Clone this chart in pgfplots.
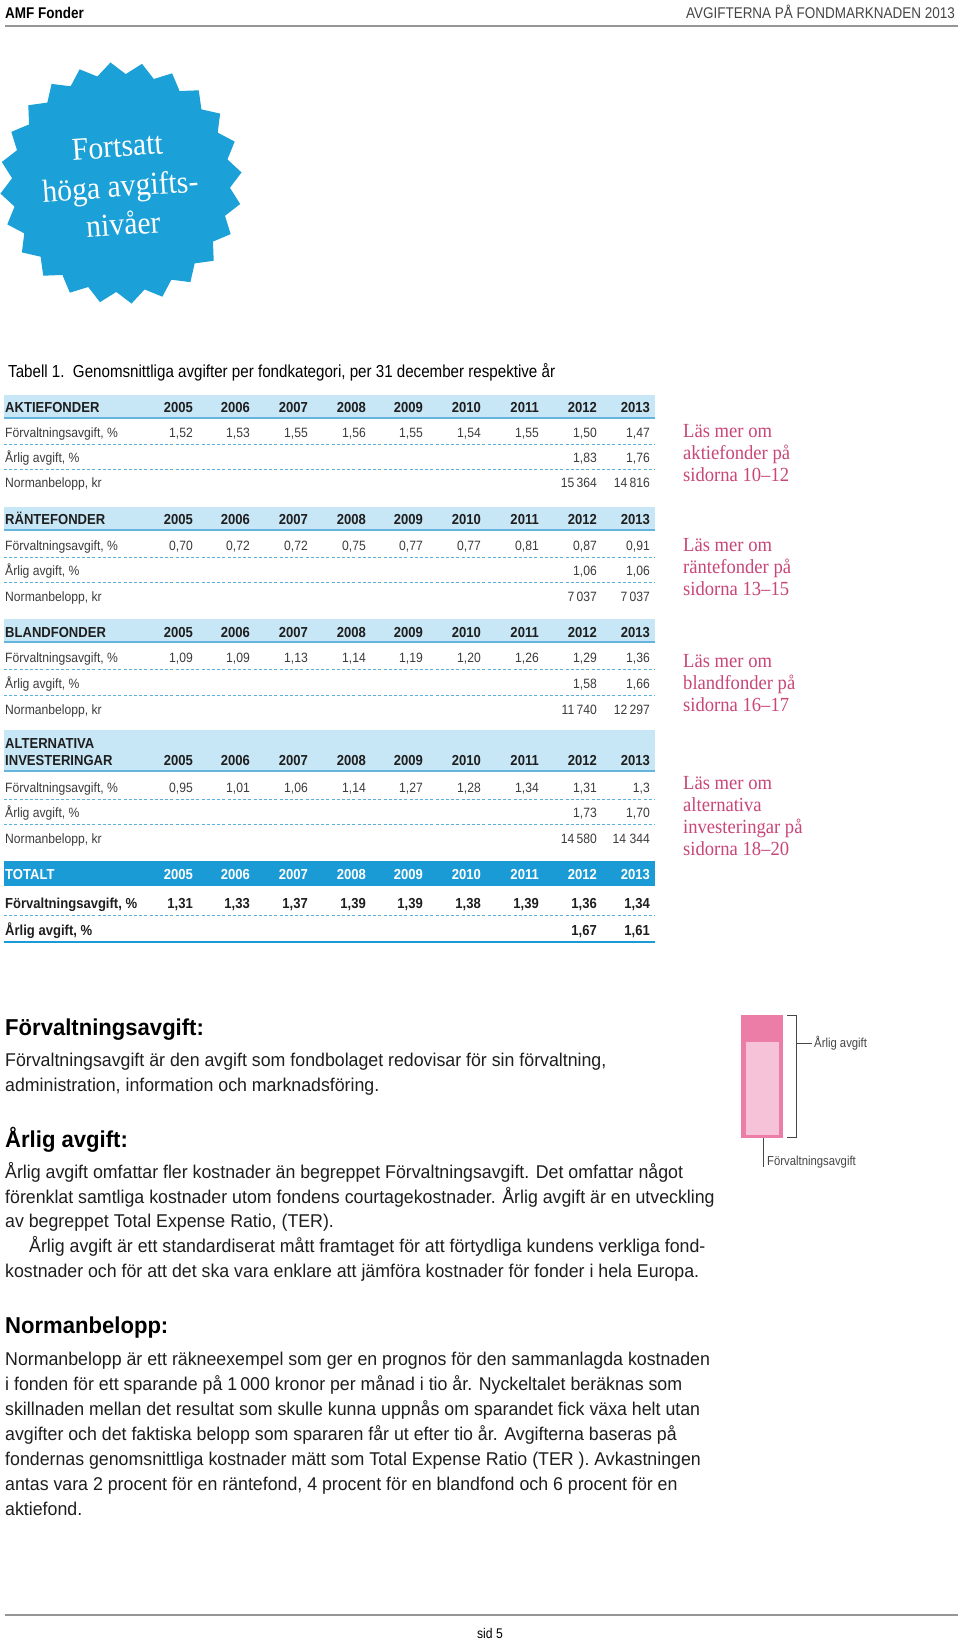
\documentclass[border=0pt]{standalone}
\usepackage{pgfplots}
\pgfplotsset{compat=1.18}
\usepackage{fontspec}
\usetikzlibrary{shapes.geometric}
\setmainfont{Liberation Sans}
\newfontfamily\tblf[FakeStretch=0.9]{Liberation Sans}
\newfontfamily\hdrf[FakeStretch=0.87]{Liberation Sans}
\newfontfamily\bodyf[FakeStretch=0.96]{Liberation Sans}
\newfontfamily\serff[FakeStretch=0.93]{Liberation Serif}
\definecolor{starblue}{RGB}{27,160,215}
\definecolor{bandlight}{RGB}{199,230,246}
\definecolor{bandline}{RGB}{100,180,222}
\definecolor{bandtot}{RGB}{27,155,213}
\definecolor{dashc}{RGB}{90,175,220}
\definecolor{pinktext}{RGB}{200,70,120}
\definecolor{pinkdark}{RGB}{236,125,166}
\definecolor{pinklight}{RGB}{246,194,216}
\definecolor{rulegray}{RGB}{150,150,150}
\definecolor{tgray}{RGB}{60,60,60}
\definecolor{txt}{RGB}{30,30,30}
\definecolor{headgray}{RGB}{70,70,70}
\def\colxs{193/2005,250/2006,308/2007,366/2008,423/2009,481/2010,539/2011,597/2012,650/2013}
\newcommand\tfont{\tblf\fontsize{13.5}{16}\selectfont}
\newcommand\hfont{\tblf\bfseries\fontsize{14.5}{16}\selectfont}
\newcommand\band[2]{\fill[bandlight] (4,#1) rectangle (655,#2);
  \draw[bandline, line width=1.2] (4,#2) -- (655,#2);}
\newcommand\years[2]{\foreach \x/\yr in \colxs {\node[anchor=base east,inner sep=0pt,font=\hfont,text=#2] at (\x,#1) {\yr};}}
\newcommand\hlab[2]{\node[anchor=base west,inner sep=0pt,font=\hfont,text=txt] at (5,#1) {#2};}
\newcommand\lab[2]{\node[anchor=base west,inner sep=0pt,font=\tfont,text=tgray] at (5,#1) {#2};}
\newcommand\val[3]{\node[anchor=base east,inner sep=0pt,font=\tfont,text=tgray] at (#1,#2) {#3};}
\newcommand\fullrow[3]{\lab{#1}{#2}\foreach \x/\v in {#3} {\val{\x}{#1}{\v}}}
\newcommand\blab[2]{\node[anchor=base west,inner sep=0pt,font=\hfont,text=txt] at (5,#1) {#2};}
\newcommand\bval[3]{\node[anchor=base east,inner sep=0pt,font=\hfont,text=txt] at (#1,#2) {#3};}
\newcommand\dline[1]{\draw[dashc, line width=0.9, dash pattern=on 3pt off 2.2pt] (4,#1) -- (655,#1);}
\newcommand\pink[2]{\node[anchor=base west,inner sep=0pt,font=\serff\fontsize{20}{22}\selectfont,text=pinktext] at (683,#1) {#2};}
\newcommand\bl[2]{\node[anchor=base west,inner sep=0pt,font=\bodyf\fontsize{18.5}{22}\selectfont,text=txt] at (5,#1) {#2};}
\newcommand\bli[2]{\node[anchor=base west,inner sep=0pt,font=\bodyf\fontsize{18.5}{22}\selectfont,text=txt] at (29,#1) {#2};}
\newcommand\bh[2]{\node[anchor=base west,inner sep=0pt,font=\bodyf\bfseries\fontsize{23}{26}\selectfont,text=black] at (5,#1) {#2};}
\newcommand\starl[3]{\node[anchor=base,text=white,font=\serff\fontsize{32}{38}\selectfont,rotate=4,inner sep=0pt] at (#1,#2) {#3};}
\begin{document}
\begin{tikzpicture}
\begin{scope}[x=1pt,y=-1pt]
\fill[white] (0,0) rectangle (960,1641);
% header
\node[anchor=base west,inner sep=0pt,font=\hdrf\bfseries\fontsize{15.5}{18}\selectfont,text=black] at (5,18) {AMF Fonder};
\node[anchor=base east,inner sep=0pt,font=\hdrf\fontsize{15.5}{18}\selectfont,text=headgray] at (955,18) {AVGIFTERNA PÅ FONDMARKNADEN 2013};
\draw[rulegray, line width=1.5] (5,26) -- (958,26);
% starburst
\node[star, star points=24, star point ratio=1.11, minimum size=242pt, fill=starblue, draw=none, inner sep=0pt, rotate=5] at (121,183) {};
\starl{118}{157}{Fortsatt}
\starl{121}{197}{höga avgifts-}
\starl{124}{235}{nivåer}
% title
\node[anchor=base west,inner sep=0pt,font=\hdrf\fontsize{17.4}{20}\selectfont,text=black] at (8,377) {Tabell 1.\ \ Genomsnittliga avgifter per fondkategori, per 31 december respektive år};
% AKTIEFONDER
\band{395}{418}
\hlab{412}{AKTIEFONDER}\years{412}{txt}
\fullrow{437}{Förvaltningsavgift, \%}{193/{1,52},250/{1,53},308/{1,55},366/{1,56},423/{1,55},481/{1,54},539/{1,55},597/{1,50},650/{1,47}}
\dline{444}
\lab{462}{Årlig avgift, \%}\val{597}{462}{1,83}\val{650}{462}{1,76}
\dline{469}
\lab{487}{Normanbelopp, kr}\val{597}{487}{15\,364}\val{650}{487}{14\,816}
% RANTEFONDER
\band{507}{530}
\hlab{524}{RÄNTEFONDER}\years{524}{txt}
\fullrow{550}{Förvaltningsavgift, \%}{193/{0,70},250/{0,72},308/{0,72},366/{0,75},423/{0,77},481/{0,77},539/{0,81},597/{0,87},650/{0,91}}
\dline{557}
\lab{575.5}{Årlig avgift, \%}\val{597}{575.5}{1,06}\val{650}{575.5}{1,06}
\dline{582.5}
\lab{601}{Normanbelopp, kr}\val{597}{601}{7\,037}\val{650}{601}{7\,037}
% BLANDFONDER
\band{619}{642}
\hlab{637}{BLANDFONDER}\years{637}{txt}
\fullrow{662}{Förvaltningsavgift, \%}{193/{1,09},250/{1,09},308/{1,13},366/{1,14},423/{1,19},481/{1,20},539/{1,26},597/{1,29},650/{1,36}}
\dline{669}
\lab{688}{Årlig avgift, \%}\val{597}{688}{1,58}\val{650}{688}{1,66}
\dline{695}
\lab{714}{Normanbelopp, kr}\val{597}{714}{11\,740}\val{650}{714}{12\,297}
% ALTERNATIVA
\band{730}{771}
\hlab{748}{ALTERNATIVA}\hlab{765}{INVESTERINGAR}\years{765}{txt}
\fullrow{792}{Förvaltningsavgift, \%}{193/{0,95},250/{1,01},308/{1,06},366/{1,14},423/{1,27},481/{1,28},539/{1,34},597/{1,31},650/{1,3}}
\dline{799}
\lab{817}{Årlig avgift, \%}\val{597}{817}{1,73}\val{650}{817}{1,70}
\dline{824}
\lab{843}{Normanbelopp, kr}\val{597}{843}{14\,580}\val{650}{843}{14 344}
% TOTALT
\fill[bandtot] (4,861) rectangle (655,886);
\node[anchor=base west,inner sep=0pt,font=\hfont,text=white] at (5,879) {TOTALT};
\years{879}{white}
\blab{908}{Förvaltningsavgift, \%}
\foreach \x/\v in {193/{1,31},250/{1,33},308/{1,37},366/{1,39},423/{1,39},481/{1,38},539/{1,39},597/{1,36},650/{1,34}} {\bval{\x}{908}{\v}}
\dline{915}
\blab{935}{Årlig avgift, \%}\bval{597}{935}{1,67}\bval{650}{935}{1,61}
\draw[bandtot, line width=2.5] (4,942) -- (655,942);
% pink side notes
\pink{437}{Läs mer om}\pink{459}{aktiefonder på}\pink{481}{sidorna 10–12}
\pink{551}{Läs mer om}\pink{573}{räntefonder på}\pink{595}{sidorna 13–15}
\pink{667}{Läs mer om}\pink{689}{blandfonder på}\pink{711}{sidorna 16–17}
\pink{789}{Läs mer om}\pink{811}{alternativa}\pink{833}{investeringar på}\pink{855}{sidorna 18–20}
% definitions text
\bh{1035}{Förvaltningsavgift:}
\bl{1066}{Förvaltningsavgift är den avgift som fondbolaget redovisar för sin förvaltning,}
\bl{1091}{administration, information och marknadsföring.}
\bh{1147}{Årlig avgift:}
\bl{1178}{Årlig avgift omfattar fler kostnader än begreppet Förvaltningsavgift. Det omfattar något}
\bl{1203}{förenklat samtliga kostnader utom fondens courtagekostnader. Årlig avgift är en utveckling}
\bl{1227}{av begreppet Total Expense Ratio, (TER).}
\bli{1252}{Årlig avgift är ett standardiserat mått framtaget för att förtydliga kundens verkliga fond-}
\bl{1277}{kostnader och för att det ska vara enklare att jämföra kostnader för fonder i hela Europa.}
\bh{1333}{Normanbelopp:}
\bl{1365}{Normanbelopp är ett räkneexempel som ger en prognos för den sammanlagda kostnaden}
\bl{1390}{i fonden för ett sparande på 1\,000 kronor per månad i tio år. Nyckeltalet beräknas som}
\bl{1415}{skillnaden mellan det resultat som skulle kunna uppnås om sparandet fick växa helt utan}
\bl{1440}{avgifter och det faktiska belopp som spararen får ut efter tio år. Avgifterna baseras på}
\bl{1465}{fondernas genomsnittliga kostnader mätt som Total Expense Ratio (TER ). Avkastningen}
\bl{1490}{antas vara 2 procent för en räntefond, 4 procent för en blandfond och 6 procent för en}
\bl{1515}{aktiefond.}
% diagram annotations
\draw[headgray, line width=1] (787,1015) -- (796,1015) -- (796,1137) -- (787,1137);
\draw[headgray, line width=1] (796,1043) -- (812,1043);
\node[anchor=west,inner sep=0pt,font=\hdrf\fontsize{13}{15}\selectfont,text=headgray] at (814,1043) {Årlig avgift};
\draw[headgray, line width=1] (763,1107) -- (763,1167);
\node[anchor=west,inner sep=0pt,font=\hdrf\fontsize{13}{15}\selectfont,text=headgray] at (767,1162) {Förvaltningsavgift};
% footer
\draw[rulegray, line width=1.5] (5,1615) -- (958,1615);
\node[anchor=base,inner sep=0pt,font=\hdrf\fontsize{14}{16}\selectfont,text=black] at (490,1638) {sid 5};
\end{scope}
\begin{axis}[at={(741pt,-1138pt)}, anchor=south west, scale only axis, width=42pt, height=123pt,
  xmin=-0.5, xmax=0.5, ymin=0, ymax=1, axis lines=none, clip=false]
\addplot[ybar, bar width=42pt, bar shift=0pt, fill=pinkdark, draw=none] coordinates {(0,1.0)};
\addplot[ybar, bar width=33pt, bar shift=0pt, fill=pinklight, draw=none] coordinates {(0,0.78)};
\addplot[ybar, bar width=33pt, bar shift=0pt, fill=pinkdark, draw=none] coordinates {(0,0.024)};
\end{axis}
\end{tikzpicture}
\end{document}
